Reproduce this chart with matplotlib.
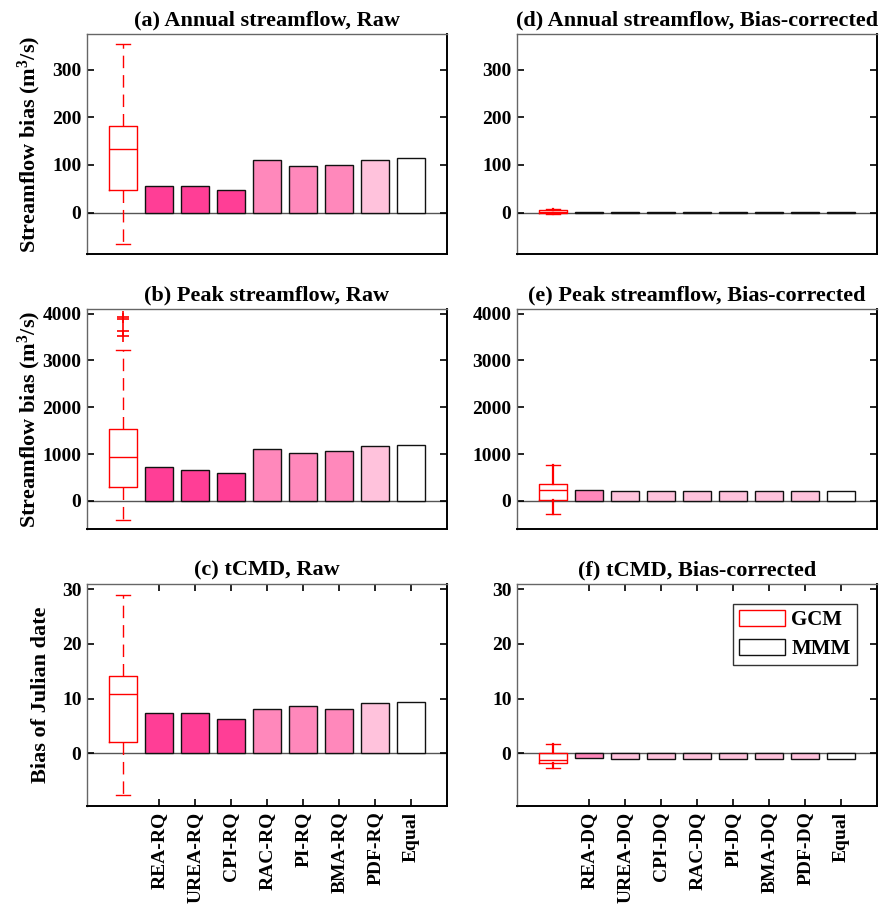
import matplotlib
matplotlib.use("Agg")
import matplotlib.pyplot as plt
from matplotlib.patches import Patch

plt.rcParams['font.family'] = ['Liberation Serif', 'DejaVu Serif']
plt.rcParams['font.weight'] = 'bold'
plt.rcParams['mathtext.fontset'] = 'custom'
plt.rcParams['mathtext.rm'] = 'Liberation Serif:bold'
plt.rcParams['mathtext.default'] = 'rm'

# ---------------- data ----------------
raw_labels = ["REA-RQ", "UREA-RQ", "CPI-RQ", "RAC-RQ", "PI-RQ", "BMA-RQ", "PDF-RQ", "Equal"]
bc_labels = ["REA-DQ", "UREA-DQ", "CPI-DQ", "RAC-DQ", "PI-DQ", "BMA-DQ", "PDF-DQ", "Equal"]

titles = ["(a) Annual streamflow, Raw", "(b) Peak streamflow, Raw", "(c) tCMD, Raw",
          "(d) Annual streamflow, Bias-corrected", "(e) Peak streamflow, Bias-corrected",
          "(f) tCMD, Bias-corrected"]

# GCM box statistics: whislo, q1, med, q3, whishi
box_a = [-66, 48, 133, 181, 353]
box_b = [-413, 287, 929, 1535, 3220]
fliers_b = [3930, 3880, 3640, 3520]
box_c = [-7.7, 2.1, 10.8, 14.2, 29.0]
box_d = [-4, -1, 2, 5, 8]
box_e = [-277, 30, 243, 370, 775]
box_f = [-2.8, -1.75, -1.3, 0.0, 1.7]

# MMM bias values
bars_a = [56, 56, 47, 110, 97, 99, 110, 114]
bars_b = [722, 664, 587, 1100, 1015, 1064, 1165, 1186]
bars_c = [7.4, 7.4, 6.3, 8.0, 8.7, 8.1, 9.1, 9.4]
bars_d = [1.5, 1.5, 1.5, 1.5, 1.5, 1.5, 1.5, 1.5]
bars_e = [243, 221, 218, 212, 220, 220, 218, 220]
bars_f = [-0.9, -1.0, -1.0, -1.0, -1.0, -1.0, -1.0, -1.0]

DARK = "#FF3E96"
MED = "#FF88BB"
LIGHT = "#FFC2DC"
WHITE = "#FFFFFF"
raw_colors = [DARK, DARK, DARK, MED, MED, MED, LIGHT, WHITE]
bc_colors = [MED, LIGHT, LIGHT, LIGHT, LIGHT, LIGHT, LIGHT, WHITE]

ylims = [(-87, 375), (-600, 4100), (-9.7, 31)]
yticks = [[0, 100, 200, 300], [0, 1000, 2000, 3000, 4000], [0, 10, 20, 30]]
ylabels = ["Streamflow bias (m$^{3}$/s)", "Streamflow bias (m$^{3}$/s)", "Bias of Julian date"]
ylabel_x = [-0.122, -0.122, -0.10]

panels = [
    (box_a, [], bars_a, raw_colors),
    (box_b, fliers_b, bars_b, raw_colors),
    (box_c, [], bars_c, raw_colors),
    (box_d, [], bars_d, bc_colors),
    (box_e, [], bars_e, bc_colors),
    (box_f, [], bars_f, bc_colors),
]

W, H = 880, 909
fig = plt.figure(figsize=(W / 100, H / 100), dpi=100)

lefts = [87, 517]
width = 360
rows = [(34, 254), (309, 529), (584, 806)]

axes = []
for col in range(2):
    for row in range(3):
        top, bot = rows[row]
        ax = fig.add_axes([lefts[col] / W, 1 - bot / H, width / W, (bot - top) / H])
        axes.append(ax)

red = "#FF0000"
for i, ax in enumerate(axes):
    row = i % 3
    col = i // 3
    box, fl, bars, colors = panels[i]
    stats = [dict(whislo=box[0], q1=box[1], med=box[2], q3=box[3], whishi=box[4], fliers=fl)]
    ax.axhline(0, color="#555555", lw=1.0, zorder=1)
    wls = (0, (9, 5)) if col == 0 else "-"
    wlw = 1.0 if col == 0 else 1.6
    ax.bxp(stats, positions=[0], widths=0.8, showfliers=True,
           boxprops=dict(color=red, lw=1.0),
           medianprops=dict(color=red, lw=1.0),
           whiskerprops=dict(color=red, lw=wlw, linestyle=wls),
           capprops=dict(color=red, lw=1.0),
           flierprops=dict(marker="+", markeredgecolor=red, markersize=8, markeredgewidth=1.2),
           capwidths=0.4, manage_ticks=False, zorder=3)
    xs = list(range(1, len(bars) + 1))
    ax.bar(xs, bars, width=0.8, color=colors, edgecolor="#111111", linewidth=1.0, zorder=2)
    ax.set_xlim(-1, 9)
    ax.set_ylim(*ylims[row])
    ax.set_yticks(yticks[row])
    ax.tick_params(axis="both", direction="in", length=5, width=1.2, labelsize=14,
                   right=True, top=True, pad=4)
    for lab in ax.get_yticklabels():
        lab.set_fontweight("bold")
    if row == 2:
        ax.set_xticks(xs)
        ax.set_xticklabels(raw_labels if col == 0 else bc_labels, rotation=90,
                           fontsize=14, fontweight="bold")
    else:
        ax.set_xticks([])
    for s in ["top", "left"]:
        ax.spines[s].set_color("#666666")
        ax.spines[s].set_linewidth(1.0)
    for s in ["bottom", "right"]:
        ax.spines[s].set_color("#000000")
        ax.spines[s].set_linewidth(1.4)
    ax.set_title(titles[i], fontsize=16, fontweight="bold", pad=6)
    if col == 0:
        ax.set_ylabel(ylabels[row], fontsize=16, fontweight="bold")
        ax.yaxis.set_label_coords(ylabel_x[row], 0.5)

# legend in panel (f)
handles = [Patch(facecolor="white", edgecolor=red, lw=1.0, label="GCM"),
           Patch(facecolor="white", edgecolor="#111111", lw=1.0, label="MMM")]
leg = axes[5].legend(handles=handles, loc="upper right", bbox_to_anchor=(0.944, 0.91),
                     fancybox=False, edgecolor="#333333", framealpha=1,
                     prop=dict(family="Liberation Serif", weight="bold", size=15),
                     handlelength=2.2, handleheight=0.8, labelspacing=0.4,
                     borderpad=0.3, handletextpad=0.3, borderaxespad=0.0)
leg.get_frame().set_linewidth(1.0)

fig.savefig("out.png", dpi=100)
